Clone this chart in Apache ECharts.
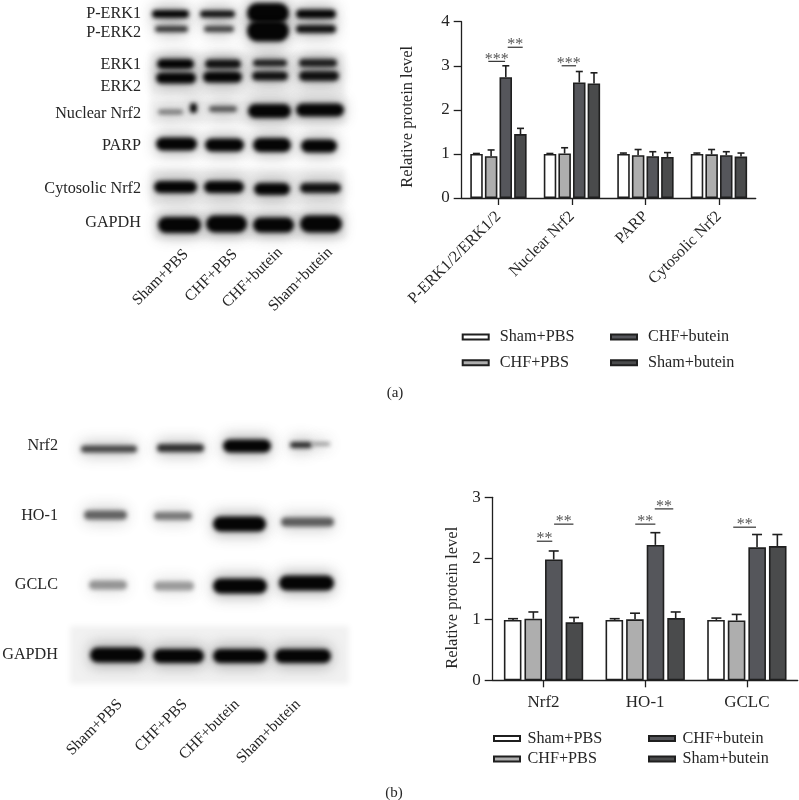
<!DOCTYPE html>
<html>
<head>
<meta charset="utf-8">
<style>html,body{margin:0;padding:0;background:#fff;overflow:hidden}#c{width:799px;height:800px}</style>
<script src="https://cdn.jsdelivr.net/npm/echarts@6/dist/echarts.min.js"></script>
</head>
<body>
<div id="c"></div>
<script>
// ---- data ----
const groups = ['Sham+PBS', 'CHF+PBS', 'CHF+butein', 'Sham+butein'];
const categoriesA = ['P-ERK1/2/ERK1/2', 'Nuclear Nrf2', 'PARP', 'Cytosolic Nrf2'];
const categoriesB = ['Nrf2', 'HO-1', 'GCLC'];

const shamPbsA = [1.00, 1.00, 1.00, 1.00];
const chfPbsA = [0.95, 1.01, 0.97, 0.99];
const chfButeinA = [2.74, 2.62, 0.95, 0.97];
const shamButeinA = [1.45, 2.60, 0.93, 0.94];
const shamPbsTopA = [1.01, 1.01, 1.02, 1.02];
const chfPbsTopA = [1.09, 1.14, 1.10, 1.10];
const chfButeinTopA = [3.00, 2.87, 1.05, 1.05];
const shamButeinTopA = [1.58, 2.84, 1.03, 1.02];

const shamPbsB = [0.99, 0.99, 0.99];
const chfPbsB = [1.01, 1.00, 0.98];
const chfButeinB = [1.98, 2.22, 2.18];
const shamButeinB = [0.95, 1.02, 2.20];
const shamPbsTopB = [1.01, 1.01, 1.02];
const chfPbsTopB = [1.12, 1.10, 1.08];
const chfButeinTopB = [2.12, 2.42, 2.39];
const shamButeinTopB = [1.03, 1.12, 2.39];

// significance marks: category, line start / end (in bar slots from the group centre), height, label
const sigA = [[0, -0.69, 0.45, 3.10, '***'], [0, 0.63, 1.65, 3.42, '**'], [1, -0.7, 0.28, 3.00, '***']];
const sigB = [[0, -0.33, 0.43, 2.28, '**'], [0, 0.52, 1.47, 2.56, '**'], [1, -0.49, 0.5, 2.56, '**'], [1, 0.47, 1.38, 2.81, '**'], [2, -0.67, 0.45, 2.51, '**']];

// western blot picture: x0, x1, y centre, thickness, darkness
const blotBandsA = [
  [152,189,14,8,1],[200,235,14,7,.95],[247,289,13,20,1],[296,336,14,9,1],
  [155,188,29,6,.8],[204,234,29,6,.75],[247,289,31,21,1],[296,336,29,8,.95],
  [157,194,64,10,1],[205,241,64,9,.95],[253,287,63,7,.9],[299,337,63,8,.9],
  [156,196,78,11,1],[203,242,77,11,1],[252,288,76,9,.95],[299,339,76,10,.95],
  [158,183,112,5,.5],[190,197,108,10,1],[209,237,109,6,.65],[248,291,111,14,1],[296,344,110,13,1],
  [156,197,144,13,1],[205,244,145,13,1],[253,291,145,14,1],[301,337,146,13,1],
  [154,197,187,12,1],[204,244,187,12,1],[254,290,189,12,1],[300,341,188,10,.95],
  [158,201,225,16,1],[206,247,224,17,1],[253,294,225,15,1],[300,342,224,17,1]
];
const blotBandsB = [
  [81,137,449,7,.72],[157,204,448,8,.82],[223,271,446,13,1],[290,312,445,6,.85],[312,330,444,3,.45],
  [84,127,515,9,.6],[154,192,516,8,.5],[213,266,524,15,1],[281,334,522,9,.62],
  [89,127,585,9,.38],[154,194,586,9,.35],[213,267,586,15,1],[279,334,583,15,1],
  [90,144,655,15,1],[153,204,656,14,1],[213,267,656,14,1],[275,331,656,14,1]
];
const blotPanels = [[150,52,195,46],[150,98,196,26],[150,168,195,39],[154,212,192,27],[70,626,279,58]];
const blotLabels = [
  ['P-ERK1',141,14],['P-ERK2',141,33],['ERK1',141,65],['ERK2',141,87],['Nuclear Nrf2',141,114],
  ['PARP',141,146],['Cytosolic Nrf2',141,189],['GAPDH',141,223],
  ['Nrf2',58,446],['HO-1',58,516],['GCLC',58,585],['GAPDH',58,655]
];
const laneLabels = [
  ['Sham+PBS',186,252],['CHF+PBS',235,252],['CHF+butein',280,250],['Sham+butein',330,250],
  ['Sham+PBS',120,702],['CHF+PBS',185,702],['CHF+butein',237,702],['Sham+butein',298,702]
];

// ---- style ----
const FONT = '"Liberation Serif", serif';
const TXT = '#262626', LINE = '#1f1f1f';
const colors = ['#ffffff', '#aeaeae', '#55565b', '#4a4b4c'];
const SLOT = 0.2;
const LW = 1.6;

const axisLine = {lineStyle: {color: LINE, width: 1.3}};
function xAxis(gridIndex, data, rotate) {
  return {type: 'category', gridIndex, data,
    axisLine: Object.assign({onZero: false}, axisLine),
    axisTick: {show: true, alignWithLabel: true, length: 7, lineStyle: {color: LINE, width: 1.3}},
    axisLabel: {color: TXT, fontFamily: FONT, fontSize: rotate ? 16 : 17, rotate, margin: rotate ? 16 : 14, interval: 0}};
}
function yAxis(gridIndex, max, gap, pad) {
  return {type: 'value', gridIndex, min: 0, max, interval: 1,
    name: 'Relative protein level', nameLocation: 'middle', nameGap: gap,
    nameTextStyle: {color: TXT, fontFamily: FONT, fontSize: 16.5, padding: pad},
    axisLine: Object.assign({show: true}, axisLine),
    axisTick: {show: true, length: 8, lineStyle: {color: LINE, width: 1.3}},
    splitLine: {show: false},
    axisLabel: {color: TXT, fontFamily: FONT, fontSize: 17, margin: 12}};
}
function bar(i, values, idx, w) {
  return {type: 'bar', name: groups[i], xAxisIndex: idx, yAxisIndex: idx, data: values,
    barWidth: w, barGap: '17%', animation: false,
    itemStyle: {color: colors[i], borderColor: LINE, borderWidth: LW}};
}
function errors(i, values, tops, idx, cap) {
  return {type: 'custom', xAxisIndex: idx, yAxisIndex: idx, z: 1, animation: false, silent: true,
    data: tops.map((t, k) => [k, values[k], t]),
    encode: {x: 0, y: 2},
    renderItem(params, api) {
      const c = api.value(0), top = api.coord([c, api.value(2)]);
      const band = api.size([1, 0])[0];
      const x = top[0] + (i - 1.5) * SLOT * band;
      const y0 = api.coord([c, api.value(1)])[1];
      const st = {stroke: LINE, lineWidth: LW, fill: null};
      return {type: 'group', children: [
        {type: 'line', shape: {x1: x, y1: y0, x2: x, y2: top[1]}, style: st},
        {type: 'line', shape: {x1: x - cap, y1: top[1], x2: x + cap, y2: top[1]}, style: st}
      ]};
    }};
}
function sig(list, idx) {
  return {type: 'custom', xAxisIndex: idx, yAxisIndex: idx, z: 5, animation: false, silent: true,
    data: list.map(s => [s[0], s[3], s[1], s[2]]),
    encode: {x: 0, y: 1},
    renderItem(params, api) {
      const p = api.coord([api.value(0), api.value(1)]);
      const band = api.size([1, 0])[0];
      const a = p[0] + api.value(2) * SLOT * band, b = p[0] + api.value(3) * SLOT * band;
      return {type: 'group', children: [
        {type: 'line', shape: {x1: a, y1: p[1], x2: b, y2: p[1]}, style: {stroke: '#333', lineWidth: 1.2}},
        {type: 'text', style: {text: list[params.dataIndex][4], x: (a + b) / 2, y: p[1] + 6, align: 'center', verticalAlign: 'bottom',
          fontFamily: FONT, fontSize: 16, fill: '#555'}}
      ]};
    }};
}
function legend(names, left, top, gap, pad) {
  return {data: names, orient: 'vertical', left, top, padding: 0, itemWidth: 26, itemHeight: 5, itemGap: gap,
    icon: 'rect', selectedMode: false,
    textStyle: {color: TXT, fontFamily: FONT, fontSize: 16.2, padding: [0, 0, 0, pad]}};
}

// ---- pictures drawn beside the charts ----
const graphics = [];
// a band is drawn as the blurred shadow of a shape placed off to the side, so only the soft blur shows
const SHIFT = 1000;
function blur(shape, color, size, z) {
  graphics.push({type: 'rect', silent: true, z,
    shape: Object.assign({}, shape, {x: shape.x - SHIFT}),
    style: {fill: '#000', shadowBlur: size, shadowColor: color, shadowOffsetX: SHIFT}});
}
blotPanels.forEach(p => blur({x: p[0], y: p[1], width: p[2], height: p[3]}, '#f1f1f1', 6, 0));
blotBandsA.concat(blotBandsB).forEach(b => {
  const g = Math.round(255 * (1 - b[4]) * .9 + 5);
  const col = `rgb(${g},${g},${g})`;
  const h = b[3];
  blur({x: b[0], y: b[2] - h / 2 - 4, width: b[1] - b[0], height: h + 8, r: 6}, `rgba(70,70,70,${(0.4 * b[4]).toFixed(2)})`, 14, 1);
  blur({x: b[0], y: b[2] - h / 2, width: b[1] - b[0], height: h, r: h / 2}, col, 4, 2);
});
blotLabels.forEach(l => graphics.push({type: 'text', silent: true, z: 5, x: l[1], y: l[2],
  style: {text: l[0], align: 'right', verticalAlign: 'middle', fontFamily: FONT, fontSize: 16.2, fill: TXT}}));
laneLabels.forEach(l => graphics.push({type: 'text', silent: true, z: 5, x: l[1], y: l[2], rotation: Math.PI / 4,
  style: {text: l[0], align: 'right', verticalAlign: 'middle', fontFamily: FONT, fontSize: 15.6, fill: TXT}}));
[['(a)', 395, 393], ['(b)', 394, 793]].forEach(l => graphics.push({type: 'text', silent: true, x: l[1], y: l[2],
  style: {text: l[0], align: 'center', verticalAlign: 'middle', fontFamily: FONT, fontSize: 15, fill: TXT}}));

const option = {
  backgroundColor: '#fff',
  animation: false,
  graphic: graphics,
  grid: [
    {left: 461.7, top: 21.7, width: 294, height: 176.3},
    {left: 492.7, top: 497.3, width: 305, height: 183}
  ],
  xAxis: [xAxis(0, categoriesA, 45), xAxis(1, categoriesB, 0)],
  yAxis: [yAxis(0, 4, 46, [0, 14, 0, 0]), yAxis(1, 3, 32, [0, 18, 0, 0])],
  legend: [
    legend([groups[0], groups[1]], 461.7, 329, 9.8, 6),
    legend([groups[2], groups[3]], 610, 329, 9.8, 6),
    legend([groups[0], groups[1]], 493, 730.5, 4.5, 2.5),
    legend([groups[2], groups[3]], 648, 730.5, 4.5, 2.5)
  ],
  series: [
    bar(0, shamPbsA, 0, '17%'), bar(1, chfPbsA, 0, '17%'), bar(2, chfButeinA, 0, '17%'), bar(3, shamButeinA, 0, '17%'),
    errors(0, shamPbsA, shamPbsTopA, 0, 3.5), errors(1, chfPbsA, chfPbsTopA, 0, 3.5), errors(2, chfButeinA, chfButeinTopA, 0, 3.5), errors(3, shamButeinA, shamButeinTopA, 0, 3.5),
    sig(sigA, 0),
    bar(0, shamPbsB, 1, '17.3%'), bar(1, chfPbsB, 1, '17.3%'), bar(2, chfButeinB, 1, '17.3%'), bar(3, shamButeinB, 1, '17.3%'),
    errors(0, shamPbsB, shamPbsTopB, 1, 5), errors(1, chfPbsB, chfPbsTopB, 1, 5), errors(2, chfButeinB, chfButeinTopB, 1, 5), errors(3, shamButeinB, shamButeinTopB, 1, 5),
    sig(sigB, 1)
  ]
};
echarts.init(document.getElementById('c'), null, {renderer: 'canvas'}).setOption(option);
</script>
</body>
</html>
